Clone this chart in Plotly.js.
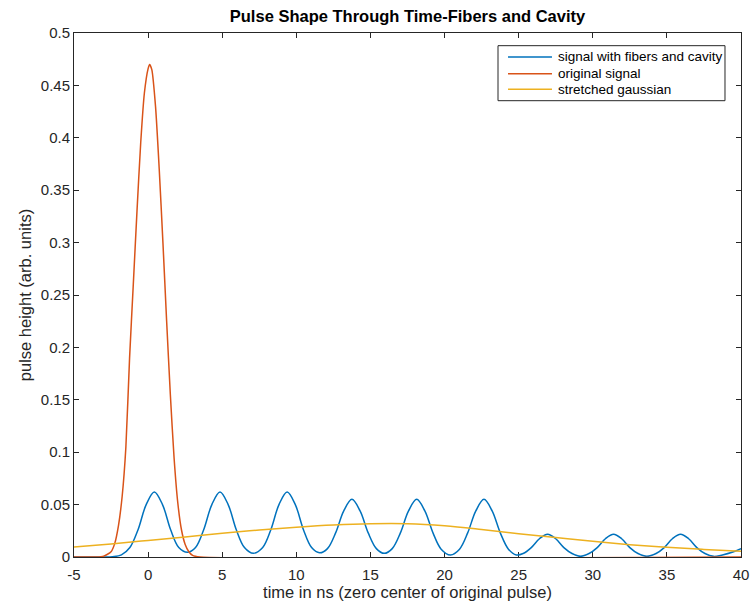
<!DOCTYPE html>
<html>
<head>
<meta charset="utf-8">
<script src="https://cdn.plot.ly/plotly-3.0.1.min.js"></script>
<style>html,body{margin:0;padding:0;background:#fff;}#chart{width:751px;height:607px;}</style>
</head>
<body>
<div id="chart"></div>
<script>
// Blue: signal with fibers and cavity
const signalX = [-5, -3.0, -2.4, -1.8, -1.23, -0.68, -0.13, 0.42, 0.97, 1.52, 2.07, 2.65,
  3.2, 3.75, 4.3, 4.85, 5.4, 5.95, 6.5, 7.1,
  7.73, 8.28, 8.83, 9.38, 9.93, 10.48, 11.03, 11.57,
  12.1, 12.65, 13.2, 13.75, 14.3, 14.85, 15.4, 15.93,
  16.47, 17.02, 17.57, 18.12, 18.67, 19.22, 19.77, 20.4,
  21.01, 21.56, 22.11, 22.66, 23.21, 23.76, 24.31, 24.85,
  25.3, 25.85, 26.4, 26.95, 27.5, 28.05, 28.6, 29.17,
  29.75, 30.3, 30.85, 31.4, 31.95, 32.5, 33.05, 33.65,
  34.27, 34.82, 35.37, 35.92, 36.47, 37.02, 37.57, 38.15,
  38.75, 39.4, 40];
const signalY = [0, 0, 0.0003, 0.002, 0.009, 0.026, 0.050, 0.062, 0.050, 0.026, 0.009, 0.0045,
  0.009, 0.026, 0.050, 0.062, 0.050, 0.026, 0.009, 0.0035,
  0.009, 0.026, 0.050, 0.062, 0.050, 0.026, 0.009, 0.004,
  0.008, 0.023, 0.044, 0.055, 0.044, 0.023, 0.008, 0.0035,
  0.008, 0.023, 0.044, 0.055, 0.044, 0.023, 0.0075, 0.002,
  0.0075, 0.023, 0.044, 0.055, 0.044, 0.023, 0.0075, 0.002,
  0.0033, 0.009, 0.0174, 0.0217, 0.0174, 0.009, 0.0033, 0.0006,
  0.0033, 0.009, 0.0174, 0.0217, 0.0174, 0.009, 0.0033, 0.0006,
  0.0033, 0.009, 0.0174, 0.0217, 0.0174, 0.009, 0.0033, 0.0006,
  0.002, 0.0045, 0.008];

// Orange: original signal
const originalX = [-5, -3.5, -3.0, -2.5, -2.25, -2.0, -1.75, -1.5, -1.25, -1.0, -0.75, -0.5, -0.25, 0, 0.1,
  0.25, 0.5, 0.75, 1.0, 1.25, 1.5, 1.75, 2.0, 2.25, 2.5, 2.75, 3.0, 3.5, 40];
const originalY = [0, 0, 0.0008, 0.005, 0.013, 0.03, 0.058, 0.105, 0.19, 0.26, 0.33, 0.395, 0.443, 0.466, 0.47,
  0.465, 0.43, 0.37, 0.30, 0.225, 0.155, 0.095, 0.052, 0.026, 0.012, 0.005, 0.0015, 0, 0];

// Yellow: stretched gaussian
const stretchedX = [-5, -2.5, 0, 2.5, 5, 7.5, 10, 12.5, 15, 17.5, 20, 22.5, 25, 27.5, 30, 32.5, 35, 37.5, 40];
const stretchedY = [0.0095, 0.0125, 0.0158, 0.0192, 0.0227, 0.0258, 0.0284, 0.0305, 0.0317, 0.0317, 0.0297,
  0.0262, 0.0222, 0.0185, 0.015, 0.0118, 0.0092, 0.0072, 0.0055];

const xTickVals = [-5, 0, 5, 10, 15, 20, 25, 30, 35, 40];
const xTickText = ['-5', '0', '5', '10', '15', '20', '25', '30', '35', '40'];
const yTickVals = [0, 0.05, 0.1, 0.15, 0.2, 0.25, 0.3, 0.35, 0.4, 0.45, 0.5];
const yTickText = ['0', '0.05', '0.1', '0.15', '0.2', '0.25', '0.3', '0.35', '0.4', '0.45', '0.5'];

const names = ['signal with fibers and cavity', 'original signal', 'stretched gaussian'];
const colors = ['#0072BD', '#D95319', '#EDB120'];

const FONT = 'Liberation Sans, Arial, Helvetica, sans-serif';

const traces = [
  {x: signalX, y: signalY, name: names[0], mode: 'lines', showlegend: false, line: {color: colors[0], width: 1.5, shape: 'spline', smoothing: 1}},
  {x: originalX, y: originalY, name: names[1], mode: 'lines', showlegend: false, line: {color: colors[1], width: 1.5, shape: 'spline', smoothing: 0.6}},
  {x: stretchedX, y: stretchedY, name: names[2], mode: 'lines', showlegend: false, line: {color: colors[2], width: 1.5, shape: 'spline'}}
];

// Legend box (MATLAB style), built in paper coordinates
const legBox = {x0: 0.6357, x1: 0.976, y0: 0.8708, y1: 0.9758};
const legRows = [0.9542, 0.9222, 0.8925];
const legLineX = [0.6507, 0.7166];
const legTextX = 0.7226;

const shapes = [{type: 'rect', xref: 'paper', yref: 'paper', x0: legBox.x0, x1: legBox.x1, y0: legBox.y0, y1: legBox.y1,
  line: {color: '#262626', width: 1}, fillcolor: '#ffffff', layer: 'above'}];
const annotations = [];
names.forEach((n, i) => {
  shapes.push({type: 'line', xref: 'paper', yref: 'paper', x0: legLineX[0], x1: legLineX[1], y0: legRows[i], y1: legRows[i],
    line: {color: colors[i], width: 1.5}, layer: 'above'});
  annotations.push({xref: 'paper', yref: 'paper', x: legTextX, y: legRows[i], xanchor: 'left', yanchor: 'middle',
    text: n, showarrow: false, font: {family: FONT, size: 13.5, color: '#000000'}});
});

const axisCommon = {
  showline: true, linecolor: '#262626', linewidth: 1, mirror: 'ticks',
  ticks: 'inside', ticklen: 5, tickcolor: '#262626', tickwidth: 1,
  showgrid: false, zeroline: false, layer: 'below traces',
  tickfont: {family: FONT, size: 15, color: '#262626'}
};

const layout = {
  width: 751, height: 607,
  paper_bgcolor: '#ffffff', plot_bgcolor: '#ffffff',
  margin: {l: 74, r: 10, t: 33, b: 50},
  font: {family: FONT, color: '#262626'},
  showlegend: false,
  title: {text: '<b>Pulse Shape Through Time-Fibers and Cavity</b>', x: 0.5, xref: 'paper', y: 0.974, yref: 'container', yanchor: 'middle',
    font: {family: FONT, size: 16.5, color: '#000000'}},
  xaxis: Object.assign({}, axisCommon, {range: [-5, 40], tickmode: 'array', tickvals: xTickVals, ticktext: xTickText,
    ticklabelstandoff: 4,
    title: {text: 'time in ns (zero center of original pulse)', standoff: 4, font: {family: FONT, size: 16.5, color: '#262626'}}}),
  yaxis: Object.assign({}, axisCommon, {range: [0, 0.5], tickmode: 'array', tickvals: yTickVals, ticktext: yTickText,
    title: {text: 'pulse height (arb. units)', standoff: 5, font: {family: FONT, size: 16.5, color: '#262626'}}}),
  shapes: shapes,
  annotations: annotations
};

Plotly.newPlot('chart', traces, layout, {displayModeBar: false, staticPlot: true});
</script>
</body>
</html>
